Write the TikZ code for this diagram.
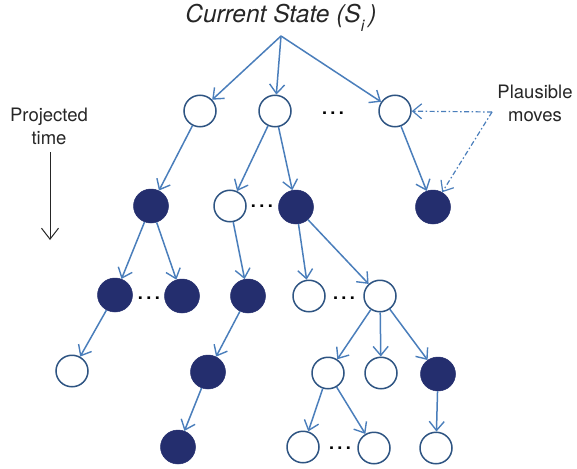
\documentclass[tikz,border=0pt]{standalone}
\usepackage{fontspec}
\setmainfont{TeX Gyre Heros}
\usetikzlibrary{shapes.geometric,arrows.meta}
\definecolor{edgeblue}{RGB}{74,126,187}
\definecolor{ringblue}{RGB}{46,84,130}
\definecolor{navy}{RGB}{36,46,110}
\tikzset{
  openst/.style={ellipse,draw=ringblue,line width=1.5pt,fill=white,minimum width=32pt,minimum height=31.5pt,inner sep=0pt},
  fullst/.style={ellipse,fill=navy,draw=navy,line width=0.5pt,minimum width=35pt,minimum height=34pt,inner sep=0pt},
  edge/.style={draw=edgeblue,line width=1.5pt,-{Straight Barb[length=9pt,width=15pt,line width=1.4pt]}},
  hint/.style={draw=edgeblue,line width=1.2pt,dash pattern=on 5pt off 2.5pt on 1.5pt off 2.5pt,-{Straight Barb[length=9pt,width=15pt,line width=1.2pt]}},
  dotsnode/.style={font=\fontsize{18}{20}\selectfont\bfseries,inner sep=0pt},
  lbl/.style={font=\fontsize{18.5}{23}\selectfont,align=center,text=black!85,inner sep=0pt}
}
\newcommand{\mydots}{.\hspace{3.5pt}.\hspace{3.5pt}.}
\begin{document}
\begin{tikzpicture}[x=1pt,y=-1pt]
\useasboundingbox (0,0) rectangle (577,468);
% root
\node[font=\fontsize{24.5}{28}\selectfont\itshape,text=black!85,inner sep=0pt] (title) at (281,18) {Current State (S\raisebox{-0.35em}{\fontsize{16}{18}\selectfont i}\,)};
\coordinate (r) at (281,36);
% level 1
\node[openst] (A) at (200,111) {};
\node[openst] (B) at (275,111) {};
\node[openst] (C) at (395,111) {};
\node[dotsnode] (d1) at (333,113) {\mydots};
% level 2
\node[fullst] (D) at (151,206) {};
\node[openst] (E) at (230,206) {};
\node[fullst] (F) at (296,207) {};
\node[fullst] (G) at (433,207) {};
\node[dotsnode] (d2) at (262,206) {\mydots};
% level 3
\node[fullst] (H) at (115,295) {};
\node[fullst] (I) at (182,296) {};
\node[fullst] (J) at (248,296) {};
\node[openst] (K) at (309,296) {};
\node[openst] (L) at (380,296) {};
\node[dotsnode] (d3) at (149,298) {\mydots};
\node[dotsnode] (d4) at (344,298) {\mydots};
% level 4
\node[openst] (M) at (72,371) {};
\node[fullst] (N) at (208,372) {};
\node[openst] (O) at (328,373) {};
\node[openst] (P) at (381,373) {};
\node[fullst] (Q) at (438,374) {};
% level 5
\node[fullst] (R) at (178,447) {};
\node[openst] (S) at (303,447) {};
\node[openst] (T) at (374,448) {};
\node[openst] (U) at (436,448) {};
\node[dotsnode] (d5) at (340,448) {\mydots};
% edges
\draw[edge] (r) -- (A);
\draw[edge] (r) -- (B);
\draw[edge] (r) -- (C);
\draw[edge] (A) -- (D);
\draw[edge] (B) -- (E);
\draw[edge] (B) -- (F);
\draw[edge] (C) -- (G);
\draw[edge] (D) -- (H);
\draw[edge] (D) -- (I);
\draw[edge] (E) -- (J);
\draw[edge] (F) -- (K);
\draw[edge] (F) -- (L);
\draw[edge] (H) -- (M);
\draw[edge] (J) -- (N);
\draw[edge] (L) -- (O);
\draw[edge] (L) -- (P);
\draw[edge] (L) -- (Q);
\draw[edge] (N) -- (R);
\draw[edge] (O) -- (S);
\draw[edge] (O) -- (T);
\draw[edge] (Q) -- (U);
% plausible moves
\node[lbl] (pm) at (535,103) {Plausible\\moves};
\coordinate (pmc) at (492,112);
\draw[hint] (pmc) -- (C);
\draw[hint] (pmc) -- (G);
% projected time
\node[lbl] (pt) at (49,126) {Projected\\time};
\coordinate (t1) at (50,152);
\coordinate (t2) at (50,240);
\draw[black!85,line width=1pt,-{Straight Barb[length=11pt,width=17pt,line width=1pt]}] (t1) -- (t2);
\end{tikzpicture}
\end{document}
